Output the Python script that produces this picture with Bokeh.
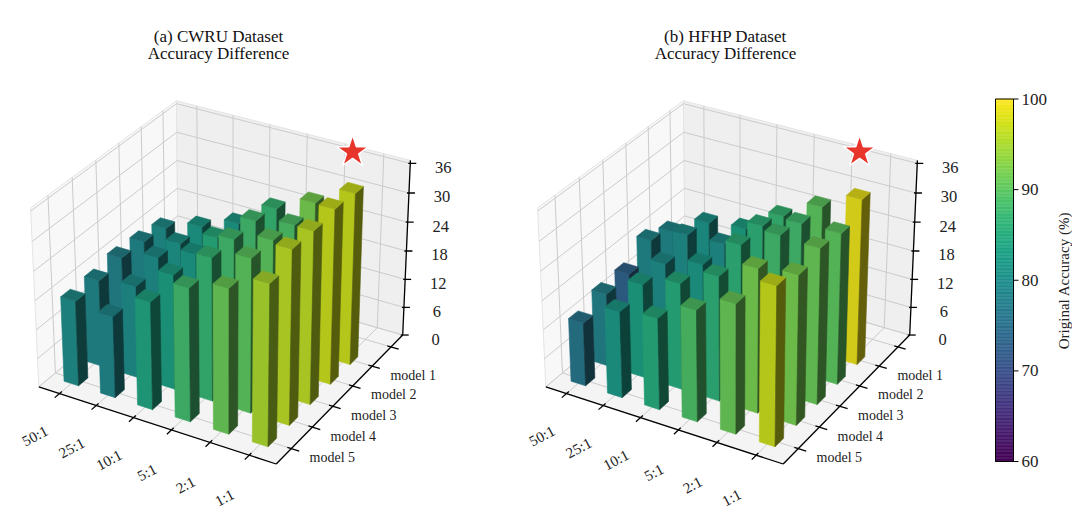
import numpy as np
from bokeh.plotting import figure
from bokeh.models import Range1d
from bokeh.palettes import Viridis256
from bokeh.embed import file_html
from bokeh.resources import INLINE
from bokeh.core.properties import value

# ----------------------------------------------------------------- data
ratios = ["50:1", "25:1", "10:1", "5:1", "2:1", "1:1"]
models = ["model 1", "model 2", "model 3", "model 4", "model 5"]
z_ticks = [0, 6, 12, 18, 24, 30, 36]
cbar_ticks = [60, 70, 80, 90, 100]
titles_line1 = ["(a) CWRU Dataset", "(b) HFHP Dataset"]
titles_line2 = ["Accuracy Difference", "Accuracy Difference"]
cbar_label = "Original Accuracy (%)"

# accuracy difference: one row per model (model 1 .. model 5), one column per ratio
cwru_diff = [
    [17.6, 20.1, 22.9, 28.1, 31.4, 35.4],
    [18.5, 20.3, 23.7, 29.3, 30.6, 35.9],
    [18.9, 21.2, 24.1, 29.3, 31.3, 35.3],
    [18.0, 19.1, 23.7, 29.4, 31.5, 35.5],
    [17.7, 16.9, 22.2, 27.3, 29.5, 32.7],
]
hfhp_diff = [
    [16.9, 20.9, 21.8, 26.6, 30.6, 34.2],
    [18.8, 22.1, 22.4, 28.3, 30.9, 31.1],
    [15.5, 19.9, 22.0, 28.2, 32.3, 31.9],
    [15.2, 19.5, 22.0, 25.7, 29.5, 30.5],
    [13.2, 17.9, 18.9, 22.9, 26.5, 32.3],
]
# original accuracy (%) -> bar colour
cwru_acc = [
    [80, 82, 82, 87, 92, 97],
    [79, 81, 85, 88, 89, 97],
    [78, 80, 82, 88, 90, 96],
    [79, 80, 83, 87, 90, 96],
    [80, 79, 84, 88, 91, 95],
]
hfhp_acc = [
    [79, 81, 83, 87, 90, 99],
    [79, 80, 80, 86, 88, 90],
    [73, 80, 82, 86, 88, 91],
    [78, 83, 85, 86, 92, 92],
    [76, 82, 85, 89, 91, 97],
]
star_model = ["model 1", "model 1"]
star_ratio = ["1:1", "1:1"]
star_z = [42.5, 42.5]

panels = [(cwru_diff, cwru_acc), (hfhp_diff, hfhp_acc)]

# ----------------------------------------------------------- 3-D projection
FONT = value("Liberation Serif")
BOX = np.array([4.0, 4.0, 3.0])
BOX = BOX * 1.8294640721620434 / np.linalg.norm(BOX)
XLIM = (-0.57, 5.68)
YLIM = (-0.70, 5.63)
ZLIM = (0.0, 36.6)
el, az = np.deg2rad(30.0), np.deg2rad(-60.0)
PS = np.array([np.cos(el) * np.cos(az), np.cos(el) * np.sin(az), np.sin(el)])
EYE = 0.5 * BOX + 10.0 * PS
W = PS / np.linalg.norm(PS)
U = np.cross([0.0, 0.0, 1.0], W)
U = U / np.linalg.norm(U)
V = np.cross(W, U)
SCALE = 2380.0
OY = 273.5
OX = [223.5, 730.5]


def world(x, y, z):
    x = np.asarray(x, float)
    y = np.asarray(y, float)
    z = np.asarray(z, float)
    return np.stack([(x - XLIM[0]) / (XLIM[1] - XLIM[0]) * BOX[0],
                     (y - YLIM[0]) / (YLIM[1] - YLIM[0]) * BOX[1],
                     (z - ZLIM[0]) / (ZLIM[1] - ZLIM[0]) * BOX[2]], axis=-1)


def proj(x, y, z, k):
    d = world(x, y, z) - EYE
    xv, yv, zv = d @ U, d @ V, d @ W
    return OX[k] + SCALE * xv / (-zv), OY - SCALE * yv / (-zv)


def seg(p0, p1, k):
    xa, ya = proj(*p0, k)
    xb, yb = proj(*p1, k)
    return [float(xa), float(xb)], [float(ya), float(yb)]


def vir_rgb(a):
    t = (a - 60.0) / 40.0
    idx = int(np.clip(t * 256, 0, 255))
    h = Viridis256[idx]
    return np.array([int(h[1:3], 16), int(h[3:5], 16), int(h[5:7], 16)], float)


def shade_hex(rgb, f):
    c = np.clip(np.round(rgb * f), 0, 255).astype(int)
    return "#%02x%02x%02x" % tuple(c)


# matplotlib-like face shading (light az 225, alt 19.47)
light = np.array([-0.6667, -0.6667, 0.3333])
def fac(n):
    return 0.3 + 0.7 * (np.dot(n, light) + 1) / 2
F_FRONT, F_RIGHT, F_TOP = fac([0, -1, 0]), fac([1, 0, 0]), fac([0, 0, 1])

# ----------------------------------------------------------------- figure
PW, PH = 1072, 508
p = figure(width=PW, height=PH, x_range=Range1d(0, PW), y_range=Range1d(PH, 0),
           output_backend="svg", toolbar_location=None, min_border=0,
           x_axis_type=None, y_axis_type=None)
p.grid.visible = False
p.outline_line_color = None
p.background_fill_color = "white"
p.border_fill_color = "white"

HALF = 0.2
for k, (diff, acc) in enumerate(panels):
    x0, x1 = XLIM
    y0, y1 = YLIM
    z0, z1 = ZLIM
    # panes
    pane_pts = [
        ([x0, x1, x1, x0], [y0, y0, y1, y1], [0, 0, 0, 0], "#f4f4f4"),   # floor
        ([x0, x0, x0, x0], [y0, y1, y1, y0], [0, 0, z1, z1], "#f8f8f8"),  # left wall
        ([x0, x1, x1, x0], [y1, y1, y1, y1], [0, 0, z1, z1], "#efefef"),  # back wall
    ]
    pxs, pys, pcs = [], [], []
    for xs, ys, zs, c in pane_pts:
        sx, sy = proj(xs, ys, zs, k)
        pxs.append(list(sx)); pys.append(list(sy)); pcs.append(c)
    p.patches(pxs, pys, fill_color=pcs, line_color="#e4e4e4", line_width=1)

    # grid lines
    gx, gy = [], []
    for i in range(len(ratios)):
        for a, b in [((i, y0, 0), (i, y1, 0)), ((i, y1, 0), (i, y1, z1))]:
            sx, sy = seg(a, b, k); gx.append(sx); gy.append(sy)
    for t in range(6):
        for a, b in [((x0, t, 0), (x1, t, 0)), ((x0, t, 0), (x0, t, z1))]:
            sx, sy = seg(a, b, k); gx.append(sx); gy.append(sy)
    for z in z_ticks:
        for a, b in [((x0, y1, z), (x1, y1, z)), ((x0, y0, z), (x0, y1, z))]:
            sx, sy = seg(a, b, k); gx.append(sx); gy.append(sy)
    p.multi_line(gx, gy, line_color="#cbcbcb", line_width=1)

    # axis lines and tick marks
    ax_x, ax_y = [], []
    for a, b in [((x0, y0, 0), (x1, y0, 0)), ((x1, y0, 0), (x1, y1, 0)), ((x1, y1, 0), (x1, y1, z1))]:
        sx, sy = seg(a, b, k); ax_x.append(sx); ax_y.append(sy)
    for i in range(len(ratios)):
        sx, sy = seg((i, y0 + 0.1, 0), (i, y0 - 0.2, 0), k); ax_x.append(sx); ax_y.append(sy)
    for t in range(6):
        sx, sy = seg((x1 - 0.1, t, 0), (x1 + 0.2, t, 0), k); ax_x.append(sx); ax_y.append(sy)
    for z in z_ticks:
        tx, ty = proj(x1, y1, z, k)
        ax_x.append([float(tx) - 2, float(tx) + 6]); ax_y.append([float(ty), float(ty)])
    p.multi_line(ax_x, ax_y, line_color="black", line_width=1.3)

    # tick labels
    lx, ly = proj(np.arange(len(ratios)), np.full(len(ratios), y0), np.zeros(len(ratios)), k)
    p.text(x=list(lx - 24.5), y=list(ly + 42.5), text=ratios, angle=0.49,
           text_font=FONT, text_font_size=value("15px"), text_color="#222222",
           text_align="center", text_baseline="middle")
    tpos = np.array([4 - m for m in range(len(models))], float)
    mx, my = proj(np.full(len(models), x1), tpos, np.zeros(len(models)), k)
    p.text(x=list(mx + 41), y=list(my + 9), text=models,
           text_font=FONT, text_font_size=value("14px"), text_color="#222222",
           text_align="center", text_baseline="middle")
    zx, zy = proj(np.full(len(z_ticks), x1), np.full(len(z_ticks), y1), np.array(z_ticks, float), k)
    p.text(x=list(zx + 33), y=list(zy + 4), text=[str(z) for z in z_ticks],
           text_font=FONT, text_font_size=value("16.5px"), text_color="#222222",
           text_align="center", text_baseline="middle")

    # bars (painter's order: far to near)
    bars = []
    for m in range(len(models)):
        yc = 4 - m
        for i in range(len(ratios)):
            h = diff[m][i]
            depth = float(world(i, yc, h / 2) @ W)
            bars.append((depth, i, yc, h, acc[m][i]))
    bars.sort(key=lambda b: b[0])
    fxs, fys, fcs = [], [], []
    for depth, xc, yc, h, a in bars:
        bx0, bx1, by0, by1 = xc - HALF, xc + HALF, yc - HALF, yc + HALF
        rgb = vir_rgb(a)
        faces = [
            ([bx0, bx1, bx1, bx0], [by0, by0, by0, by0], [0, 0, h, h], F_FRONT),
            ([bx1, bx1, bx1, bx1], [by0, by1, by1, by0], [0, 0, h, h], F_RIGHT),
            ([bx0, bx1, bx1, bx0], [by0, by0, by1, by1], [h, h, h, h], F_TOP),
        ]
        for xs, ys, zs, f in faces:
            sx, sy = proj(xs, ys, zs, k)
            fxs.append(list(sx)); fys.append(list(sy)); fcs.append(shade_hex(rgb, f))
    p.patches(fxs, fys, fill_color=fcs, line_color=fcs, line_width=0.6)

    # star marker
    sx, sy = proj(ratios.index(star_ratio[k]), 4 - models.index(star_model[k]), star_z[k], k)
    p.scatter([float(sx)], [float(sy)], marker="star", size=34,
              fill_color="#e8352b", line_color="white", line_width=1.5)

    # titles
    tx = [218.0, 725.0][k]
    p.text(x=[tx], y=[35.7], text=[titles_line1[k]], text_font=FONT,
           text_font_size=value("17px"), text_color="#111111",
           text_align="center", text_baseline="alphabetic")
    p.text(x=[tx], y=[52.7], text=[titles_line2[k]], text_font=FONT,
           text_font_size=value("17px"), text_color="#111111",
           text_align="center", text_baseline="alphabetic")

# ---------------------------------------------------------------- colour bar
CB_L, CB_R, CB_TOP, CB_BOT = 995.0, 1013.0, 98.5, 461.0
def cb_y(v):
    return CB_BOT - (np.asarray(v, float) - 60.0) / 40.0 * (CB_BOT - CB_TOP)
n = len(Viridis256)
vals = 60.0 + 40.0 * np.arange(n + 1) / n
p.quad(left=CB_L, right=CB_R, bottom=list(cb_y(vals[:-1])), top=list(cb_y(vals[1:])),
       fill_color=list(Viridis256), line_color=list(Viridis256), line_width=0.5)
p.patch([CB_L, CB_R, CB_R, CB_L], [CB_TOP, CB_TOP, CB_BOT, CB_BOT],
        fill_color=None, line_color="black", line_width=1)
ty = list(cb_y(cbar_ticks))
p.multi_line([[CB_R, CB_R + 5] for _ in cbar_ticks], [[y, y] for y in ty],
             line_color="black", line_width=1)
p.text(x=[CB_R + 8] * len(cbar_ticks), y=ty, text=[str(v) for v in cbar_ticks],
       text_font=FONT, text_font_size=value("17px"), text_color="#222222",
       text_align="left", text_baseline="middle")
p.text(x=[1063.5], y=[280], text=[cbar_label], angle=np.pi / 2,
       text_font=FONT, text_font_size=value("15px"), text_color="#222222",
       text_align="center", text_baseline="middle")

open("out.html", "w").write(file_html(p, INLINE))
